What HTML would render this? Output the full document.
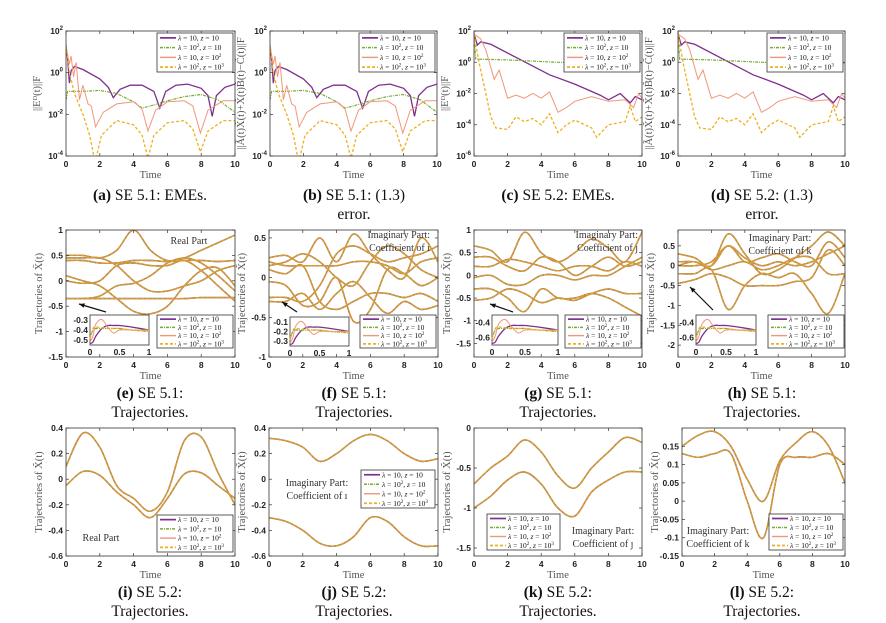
<!DOCTYPE html>
<html><head><meta charset="utf-8">
<style>
html,body{margin:0;padding:0;background:#fff;}
svg{display:block;}
.tk{font-family:"Liberation Sans",sans-serif;font-size:8.5px;fill:#222;font-weight:bold;}
.lab{font-family:"Liberation Serif",serif;font-size:10.5px;fill:#555;}
.leg{font-family:"Liberation Serif",serif;font-size:7.5px;fill:#111;}
.ann{font-family:"Liberation Serif",serif;font-size:10px;fill:#333;}
.cap{font-family:"Liberation Serif",serif;font-size:15.5px;fill:#111;}
</style></head>
<body>
<svg id="fig" width="886" height="623" viewBox="0 0 886 623" xmlns="http://www.w3.org/2000/svg"></svg>
<script>
// ---------- data (log10 values for error charts) ----------
const aPurple=[[0,1.3],[0.1,0.6],[0.2,-0.5],[0.3,0.1],[0.5,0.3],[1,0.15],[2,-0.3],[2.5,-0.7],[2.8,-1.2],[3.2,-0.8],[3.8,-0.6],[4.5,-0.6],[5.2,-0.9],[5.55,-1.7],[5.9,-0.9],[6.5,-0.6],[7.2,-0.55],[8,-0.75],[8.4,-1.1],[8.65,-2.1],[8.9,-1.1],[9.4,-0.7],[10,-0.55]];
const aGreen=[[0,-1.3],[0.1,-0.9],[1,-0.9],[2,-0.85],[3,-1.0],[4,-1.4],[4.5,-1.7],[5,-1.6],[6,-1.35],[7,-1.15],[8,-1.05],[9,-1.3],[10,-1.9]];
const aPink=[[0,1.3],[0.2,0.4],[0.3,0.8],[0.45,-0.2],[0.6,0.5],[0.8,-1.3],[1,-0.6],[1.3,-1.5],[1.5,-1.6],[1.75,-2.6],[2.2,-1.9],[3,-1.5],[4,-1.4],[4.5,-1.75],[4.85,-2.8],[5.3,-1.8],[6,-1.4],[7,-1.35],[7.5,-1.6],[7.95,-2.9],[8.4,-1.8],[9.3,-1.35],[10,-1.35]];
const aYellow=[[0,1.3],[0.2,0],[0.5,-1],[1,-2],[1.4,-3],[1.72,-4.3],[2.1,-3],[3,-2.3],[4,-2.5],[4.5,-3],[4.85,-4.1],[5.2,-3],[6,-2.4],[7,-2.3],[7.5,-2.7],[7.95,-3.8],[8.4,-2.8],[9.3,-2.3],[10,-2.3]];
const cPurple=[[0,1.8],[0.2,1.1],[0.4,1.3],[1,1.15],[4.5,-0.8],[6,-1.4],[7.5,-2.1],[8,-2.4],[8.7,-2.0],[9.3,-2.6],[9.6,-2.2],[10,-2.4]];
const cGreen=[[0,1.9],[0.1,0.2],[2,0.15],[5,0.0],[8,-0.05],[10,-0.05]];
const cPink=[[0,1.8],[0.4,1.5],[0.7,0.8],[1.2,-1.1],[1.5,-0.5],[2,-2.3],[2.5,-2.1],[3,-2.3],[3.5,-2.0],[4,-2.3],[4.5,-1.9],[5,-3.2],[5.5,-2.9],[6,-2.5],[7,-2.2],[8,-2.5],[9,-2.4],[9.5,-2.9],[9.8,-2.0],[10,-2.3]];
const cYellow=[[0,1.8],[0.3,0],[0.7,-2],[1,-3.5],[1.3,-4.2],[2,-4.3],[2.5,-3.5],[3,-3.8],[3.5,-3.6],[4,-4.0],[4.5,-3.3],[5,-4.5],[5.5,-4.0],[6,-3.7],[7,-4.2],[7.3,-4.8],[8,-4.0],[9,-3.8],[9.3,-2.8],[9.6,-3.8],[10,-3.5]];
// ---------- trajectory data (values at t = 0..10) ----------
const tGrid=[0,1,2,3,4,5,6,7,8,9,10];
const eCurves=[[0.5,0.5,0.45,0.6,1.0,0.6,0.4,0.45,0.6,0.75,0.9],[0.45,0.45,0.45,0.3,0.0,-0.2,-0.2,-0.1,0.0,0.2,0.3],[0.4,0.4,0.35,0.35,0.4,0.4,0.38,0.4,0.4,0.38,0.4],[0.1,0.0,-0.1,-0.35,-0.6,-0.65,-0.5,-0.1,0.2,0.25,-0.1],[-0.35,-0.35,-0.3,-0.1,-0.05,0.1,0.35,0.45,0.35,0.1,-0.2],[-0.35,-0.35,-0.35,-0.35,-0.35,-0.35,-0.35,-0.35,-0.33,-0.33,-0.33],[0.0,-0.05,0.0,0.3,0.35,0.3,0.3,0.4,0.2,-0.1,-0.4]];
const fCurves=[[0.25,0.28,0.2,0.5,0.2,0.55,0.3,0.1,0.0,0.5,0.2],[0.15,0.2,0.3,0.2,0.0,-0.1,0.2,0.4,0.3,0.1,0.0],[-0.25,-0.25,-0.3,-0.1,0.3,0.4,0.3,0.2,0.25,0.3,0.4],[0.1,0.05,0.15,-0.3,-0.4,-0.3,-0.2,-0.2,-0.25,-0.2,-0.3],[-0.05,-0.1,-0.35,-0.3,0.0,-0.55,-0.4,0.1,0.05,-0.1,0.0],[0.2,0.15,0.15,0.15,0.15,0.2,0.2,0.15,0.05,0.2,0.25],[-0.3,-0.3,-0.2,-0.4,-0.2,-0.05,-0.25,-0.45,-0.3,-0.4,-0.35]];
const gCurves=[[0.65,0.55,0.3,0.95,0.5,0.3,0.5,0.8,0.6,0.3,0.95],[0.4,0.4,0.2,0.1,0.4,0.3,0.0,0.2,0.4,0.2,0.3],[0.2,0.2,0.35,0.3,0.2,0.1,0.2,0.2,0.1,0.3,0.2],[-0.05,0.0,-0.2,-0.2,0.0,0.0,-0.1,0.0,0.0,0.2,0.4],[-0.3,-0.3,-0.5,-0.8,-0.3,-0.5,-0.5,-0.4,-0.5,-0.7,-0.9],[-0.55,-0.5,-0.3,-0.4,-0.6,-0.5,-0.55,-0.4,-0.3,-0.4,-0.4]];
const hCurves=[[0.3,0.2,0.0,0.8,0.3,-0.2,-0.1,0.2,0.5,0.85,0.5],[0.1,0.1,0.0,0.5,0.1,0.2,0.3,0.1,0.0,0.6,0.2],[0.0,0.1,-0.1,0.0,0.1,-0.1,0.0,0.2,0.2,-0.2,-0.2],[-0.2,-0.2,-0.1,-1.1,-0.5,-0.2,-0.3,-0.2,-0.7,-1.2,-0.2],[-0.45,-0.35,-0.2,-0.3,-0.5,-0.5,-0.5,-0.4,-0.3,0.4,0.0],[0.0,0.0,0.1,0.5,0.2,0.0,0.1,0.0,0.1,0.3,0.5]];
const iCurves=[[0.1,0.36,0.25,-0.05,-0.15,-0.25,-0.1,0.3,0.33,0.05,-0.2],[-0.05,0.06,0.03,-0.1,-0.2,-0.3,-0.15,0.04,0.05,-0.05,-0.15]];
const jCurves=[[0.32,0.3,0.25,0.14,0.2,0.3,0.35,0.3,0.2,0.14,0.16],[-0.3,-0.33,-0.4,-0.5,-0.52,-0.45,-0.3,-0.33,-0.45,-0.52,-0.52]];
const kCurves=[[-0.7,-0.5,-0.35,-0.15,-0.3,-0.6,-0.75,-0.5,-0.3,-0.12,-0.18],[-1.0,-0.85,-0.65,-0.55,-0.7,-1.0,-1.1,-0.8,-0.65,-0.55,-0.55]];
const lCurves=[[0.15,0.18,0.19,0.15,0.06,0.0,0.11,0.16,0.19,0.15,0.05],[0.13,0.12,0.13,0.13,0.0,-0.1,0.1,0.12,0.12,0.13,0.1]];
// inset data: t in [0,1], normalized value in [0,1] of inset height
const insetT=[0,0.05,0.1,0.2,0.3,0.4,0.5,0.7,1];
const insetPurple=[0.05,0.1,0.3,0.55,0.65,0.65,0.65,0.6,0.5];
const insetGreen=[0.2,0.5,0.55,0.55,0.55,0.55,0.55,0.5,0.45];
const insetPink=[0.1,0.3,0.7,0.85,0.6,0.4,0.5,0.5,0.5];
const insetYellow=[0.2,0.55,0.6,0.58,0.56,0.55,0.55,0.5,0.47];
// tick labels
const xTicks=[0,2,4,6,8,10];
const eTicks=[1,0.5,0,-0.5,-1,-1.5];
const fTicks=[0.5,0,-0.5,-1];
const gTicks=[1,0.5,0,-0.5,-1,-1.5];
const hTicks=[0.5,0,-0.5,-1,-1.5,-2];
const ijTicks=[0.4,0.2,0,-0.2,-0.4,-0.6];
const kTicks=[0,-0.5,-1,-1.5];
const lTicks=[0.15,0.1,0.05,0,-0.05,-0.1,-0.15];

const NS="http://www.w3.org/2000/svg";
const svg=document.getElementById('fig');
function el(tag,attrs,parent){const e=document.createElementNS(NS,tag);for(const k in attrs)e.setAttribute(k,attrs[k]);(parent||svg).appendChild(e);return e;}
const COL={p:'#7e2f8e',g:'#77ac30',k:'#f0967a',y:'#edb120'};
const STY=[{c:COL.p,d:'',w:1.3},{c:COL.g,d:'3,1,1,1',w:1.2},{c:COL.k,d:'',w:1},{c:COL.y,d:'3,2',w:1.3}];

function smoothPath(pts){
  let d='M'+pts[0][0].toFixed(1)+','+pts[0][1].toFixed(1);
  for(let i=0;i<pts.length-1;i++){
    const p0=pts[i-1]||pts[i],p1=pts[i],p2=pts[i+1],p3=pts[i+2]||p2;
    const c1=[p1[0]+(p2[0]-p0[0])/6,p1[1]+(p2[1]-p0[1])/6];
    const c2=[p2[0]-(p3[0]-p1[0])/6,p2[1]-(p3[1]-p1[1])/6];
    d+='C'+c1[0].toFixed(1)+','+c1[1].toFixed(1)+' '+c2[0].toFixed(1)+','+c2[1].toFixed(1)+' '+p2[0].toFixed(1)+','+p2[1].toFixed(1);
  }
  return d;
}
function linePath(pts){return 'M'+pts.map(p=>p[0].toFixed(1)+','+p[1].toFixed(1)).join('L');}

function axes(id,b,ymin,ymax,yticks,log,ylabel){
  const g=el('g',{});
  
  
  const sx=t=>b.x0+(t/10)*(b.x1-b.x0);
  const sy=v=>b.y1-(v-ymin)/(ymax-ymin)*(b.y1-b.y0);
  el('rect',{x:b.x0,y:b.y0,width:b.x1-b.x0,height:b.y1-b.y0,fill:'#fff',stroke:'none'},g);
  const clipId='clip-'+id;
  const cp=el('clipPath',{id:clipId},g);el('rect',{x:b.x0,y:b.y0,width:b.x1-b.x0,height:b.y1-b.y0},cp);
  const plot=el('g',{'clip-path':'url(#'+clipId+')'},g);
  
  
  xTicks.forEach(t=>{const x=sx(t);
    el('line',{x1:x,y1:b.y1,x2:x,y2:b.y1-3,stroke:'#333','stroke-width':0.7},g);
    el('line',{x1:x,y1:b.y0,x2:x,y2:b.y0+3,stroke:'#333','stroke-width':0.7},g);
    const tx=el('text',{x:x,y:b.y1+11,'text-anchor':'middle',class:'tk'},g);tx.textContent=t;
    });
  yticks.forEach(v=>{const y=sy(v);
    el('line',{x1:b.x0,y1:y,x2:b.x0+3,y2:y,stroke:'#333','stroke-width':0.7},g);
    el('line',{x1:b.x1,y1:y,x2:b.x1-3,y2:y,stroke:'#333','stroke-width':0.7},g);
    const tx=el('text',{x:b.x0-3,y:y+3,'text-anchor':'end',class:'tk'},g);
    if(log){tx.textContent='10';const s=el('tspan',{dy:-4,'font-size':'6px'},tx);s.textContent=v;}
    else tx.textContent=v;
    });
  el('rect',{x:b.x0,y:b.y0,width:b.x1-b.x0,height:b.y1-b.y0,fill:'none',stroke:'#333','stroke-width':0.8},g);
  const xl=el('text',{x:(b.x0+b.x1)/2,y:b.y1+22,'text-anchor':'middle',class:'lab'},g);xl.textContent='Time';
  
  const cy=(b.y0+b.y1)/2, lx=b.x0-(log?26:24);
  const yl=el('text',{x:lx,y:cy,'text-anchor':'middle',class:'lab',transform:'rotate(-90 '+lx+' '+cy+')','font-size':'9.5px'},g);
  yl.textContent=ylabel;
  
  return {g,plot,sx,sy};
}

function legend(parent,x,y,w,h){
  const lg=el('g',{},parent);
  
  
  el('rect',{x:x,y:y,width:w,height:h,fill:'#fff',stroke:'#333','stroke-width':0.8},lg);
  const labs=[['10',''],['10','2'],['10',''],['10','2']];
  const zs=[['10',''],['10',''],['10','2'],['10','3']];
  STY.forEach((s,i)=>{const yy=y+h*(i+0.5)/4;
    el('line',{x1:x+3,y1:yy,x2:x+19,y2:yy,stroke:s.c,'stroke-width':s.w+0.4,'stroke-dasharray':s.d},lg);
    const t=el('text',{x:x+21,y:yy+2.5,class:'leg'},lg);
    
    el('tspan',{'font-style':'italic'},t).textContent='λ';
    el('tspan',{},t).textContent=' = '+labs[i][0];
    if(labs[i][1]){const s=el('tspan',{dy:-3,'font-size':'5px'},t);s.textContent=labs[i][1];el('tspan',{dy:3},t).textContent=', ';}
    else el('tspan',{},t).textContent=', ';
    el('tspan',{'font-style':'italic'},t).textContent='z';
    el('tspan',{},t).textContent=' = '+zs[i][0];
    if(zs[i][1]){const s=el('tspan',{dy:-3,'font-size':'5px'},t);s.textContent=zs[i][1];}
  });
}

function caption(cx,y,bold,rest,line2){
  const t=el('text',{x:cx,y:y,'text-anchor':'middle',class:'cap'});
  
  el('tspan',{'font-weight':'bold'},t).textContent=bold;
  el('tspan',{},t).textContent=' '+rest;
  if(line2){const t2=el('text',{x:cx,y:y+19,'text-anchor':'middle',class:'cap'});t2.textContent=line2;
    }
}

function errChart(id,b,ymin,series,ylabel){
  const ticks=[];for(let v=2;v>=ymin;v-=2)ticks.push(v);
  const A=axes(id,b,ymin,2,ticks,true,ylabel);
  series.forEach((s,i)=>{const st=STY[i];
    const p=el('path',{d:linePath(s.map(q=>[A.sx(q[0]),A.sy(q[1])])),fill:'none',stroke:st.c,'stroke-width':st.w,'stroke-dasharray':st.d},A.plot);
    });
  legend(A.g,b.x1-78,b.y0+2,76,39);
}

function trajChart(id,b,ymin,ymax,ticks,curves,leg,inset){
  const A=axes(id,b,ymin,ymax,ticks,false,'Trajectories of X̃(t)');
  STY.forEach((st,si)=>{curves.forEach((c,ci)=>{
    const pts=tGrid.map((t,k)=>[A.sx(t),A.sy(c[k])]);
    const p=el('path',{d:smoothPath(pts),fill:'none',stroke:si==3?'#d9a22a':(si==2?'#c98a55':st.c),'stroke-width':si==3?1.3:1.4,'stroke-dasharray':st.d},A.plot);
    });});
  legend(A.g,leg[0],leg[1],leg[2],leg[3]);
  if(inset){
    const [ix0,iy0,ix1,iy1,labs,ar]=inset;
    const ig=el('g',{},A.g);
    el('rect',{x:ix0,y:iy0,width:ix1-ix0,height:iy1-iy0,fill:'#fff',stroke:'#333','stroke-width':0.8},ig);
    const isx=t=>ix0+t*(ix1-ix0), isy=v=>iy1-v*(iy1-iy0);
    [insetPurple,insetGreen,insetPink,insetYellow].forEach((arr,i)=>{const st=STY[i];
      el('path',{d:smoothPath(insetT.map((t,k)=>[isx(t),isy(arr[k])])),fill:'none',stroke:st.c,'stroke-width':st.w,'stroke-dasharray':st.d},ig);});
    labs.forEach((l,k)=>{const yy=iy0+(k+0.5)*(iy1-iy0)/labs.length;
      el('text',{x:ix0-2,y:yy+3,'text-anchor':'end',class:'tk'},ig).textContent=l;});
    [0,0.5,1].forEach(t=>{el('text',{x:isx(t),y:iy1+10,'text-anchor':'middle',class:'tk'},ig).textContent=t;});
    const arw=el('g',{},A.g);
    el('line',{x1:ar[0],y1:ar[1],x2:ar[2],y2:ar[3],stroke:'#111','stroke-width':1.2},arw);
    const ang=Math.atan2(ar[3]-ar[1],ar[2]-ar[0]);
    const h1=[ar[2]-6*Math.cos(ang-0.4),ar[3]-6*Math.sin(ang-0.4)],h2=[ar[2]-6*Math.cos(ang+0.4),ar[3]-6*Math.sin(ang+0.4)];
    el('polygon',{points:ar[2]+','+ar[3]+' '+h1.join(',')+' '+h2.join(','),fill:'#111'},arw);
  }
  return A;
}
function ann(x,y,lines,anchor){lines.forEach((l,i)=>{const t=el('text',{x:x,y:y+i*13,'text-anchor':anchor||'middle',class:'ann'});t.textContent=l;
  });}

const C1={x0:66,x1:235},C2={x0:270,x1:437},C3={x0:474,x1:642},C4={x0:678,x1:845};
const R1={y0:31,y1:156},R2={y0:230,y1:357},R3={y0:428,y1:556};
const B=(c,r)=>({x0:c.x0,x1:c.x1,y0:r.y0,y1:r.y1});
errChart('a',B(C1,R1),-4,[aPurple,aGreen,aPink,aYellow],'||E\u1D30(t)||F');
errChart('b',B(C2,R1),-4,[aPurple,aGreen,aPink,aYellow],'||Ã(t)X̃(t)+X̃(t)B̃(t)−C̃(t)||F');
errChart('c',B(C3,R1),-6,[cPurple,cGreen,cPink,cYellow],'||E\u1D30(t)||F');
errChart('d',B(C4,R1),-6,[cPurple,cGreen,cPink,cYellow],'||Ã(t)X̃(t)+X̃(t)B̃(t)−C̃(t)||F');

trajChart('e',B(C1,R2),-1.5,1,eTicks,eCurves,[157,315,76,33],[90,315,149,345,['-0.3','-0.4','-0.5'],[106,312,79,304]]);
trajChart('f',B({x0:269,x1:438},R2),-1,0.6,fTicks,fCurves,[360,315,76,33],[290,317,349,346,['-0.1','-0.2','-0.3'],[297,312,282,302]]);
trajChart('g',B(C3,R2),-1.8,1,gTicks,gCurves,[565,315,76,33],[492,315,558,345,['-0.4','-0.6'],[513,312,490,304]]);
trajChart('h',B(C4,R2),-2.3,0.9,hTicks,hCurves,[768,315,76,33],[696,315,756,345,['-0.4','-0.6'],[713,310,690,287]]);
trajChart('i',B(C1,R3),-0.6,0.4,ijTicks,iCurves,[157,515,76,37],null);
trajChart('j',B({x0:269,x1:438},R3),-0.6,0.4,ijTicks,jCurves,[361,470,74,38],null);
trajChart('k',B(C3,R3),-1.6,0,kTicks,kCurves,[487,514,73,36],null);
trajChart('l',B({x0:682,x1:845},R3),-0.15,0.2,lTicks,lCurves,[769,514,74,36],null);

ann(189,244,['Real Part']);
ann(430,238,['Imaginary Part:','Coefficient of ı'],'end');
ann(638,238,['Imaginary Part:','Coefficient of ȷ'],'end');
ann(780,241,['Imaginary Part:','Coefficient of k']);
ann(101,541,['Real Part']);
ann(317,486,['Imaginary Part:','Coefficient of ı']);
ann(603,534,['Imaginary Part:','Coefficient of ȷ']);
ann(718,534,['Imaginary Part:','Coefficient of k']);

caption(150,200,'(a)','SE 5.1: EMEs.');
caption(354,200,'(b)','SE 5.1: (1.3)','error.');
caption(558,200,'(c)','SE 5.2: EMEs.');
caption(762,200,'(d)','SE 5.2: (1.3)','error.');
[['(e)','SE 5.1:',150],['(f)','SE 5.1:',354],['(g)','SE 5.1:',558],['(h)','SE 5.1:',762]].forEach(c=>caption(c[2],398,c[0],c[1],'Trajectories.'));
[['(i)','SE 5.2:',150],['(j)','SE 5.2:',354],['(k)','SE 5.2:',558],['(l)','SE 5.2:',762]].forEach(c=>caption(c[2],597,c[0],c[1],'Trajectories.'));
</script>
</body></html>
